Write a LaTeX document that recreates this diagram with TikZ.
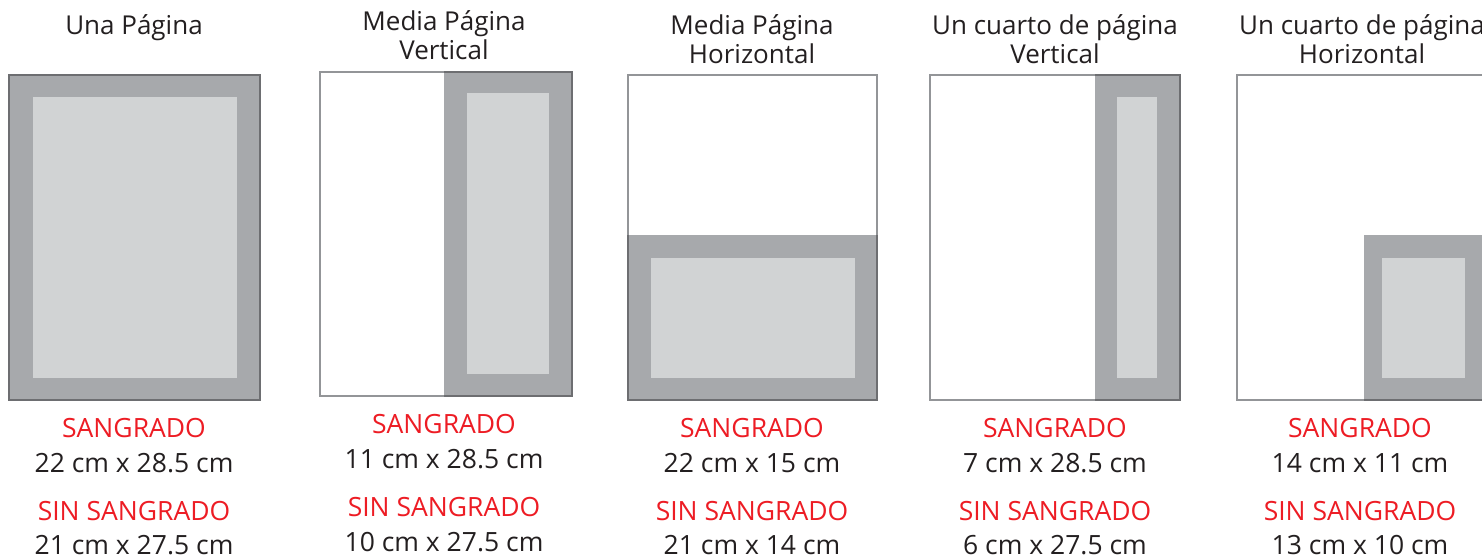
\documentclass[tikz,border=0pt]{standalone}
\usepackage{fontspec}
\setmainfont{Open Sans}
\usepackage{xcolor}
\usepackage{tikz}
\usetikzlibrary{positioning}

\definecolor{bleedgray}{HTML}{A7A9AC}
\definecolor{safegray}{HTML}{D1D3D4}
\definecolor{bleedline}{HTML}{6D6E71}
\definecolor{pageline}{HTML}{939598}
\definecolor{sangrado}{HTML}{ED1C24}
\definecolor{ink}{HTML}{231F20}

\begin{document}
\begin{tikzpicture}[
    x=1pt, y=-1pt,
    page/.style={draw=pageline, line width=2pt, fill=white},
    bleedfill/.style={fill=bleedgray},
    bleedframe/.style={draw=bleedline, line width=2pt},
    safe/.style={fill=safegray},
    title/.style={font=\fontsize{26}{29}\selectfont, text=ink, align=center, anchor=base},
    redlabel/.style={font=\fontsize{26.5}{30}\selectfont, text=sangrado, anchor=base},
    sizelabel/.style={font=\fontsize{26.5}{30}\selectfont, text=ink, anchor=base}
]
    \clip (0,0) rectangle (1482,557);

    % Una pagina
    \node[title] (t1) at (134,34) {Una Página};
    \fill[bleedfill] (9,75) rectangle (260,400);
    \draw[bleedframe] (9,75) rectangle (260,400);
    \fill[safe] (33,97) rectangle (237,378);
    \node[redlabel] (s1) at (134,437) {SANGRADO};
    \node[sizelabel] (d1) at (134,472) {22 cm x 28.5 cm};
    \node[redlabel] (n1) at (134,520) {SIN SANGRADO};
    \node[sizelabel] (e1) at (134,554) {21 cm x 27.5 cm};

    % Media pagina vertical
    \node[title] (t2) at (444,59) {Media Página\\Vertical};
    \draw[page] (320,72) rectangle (572,396);
    \fill[bleedfill] (444,72) rectangle (572,396);
    \draw[bleedframe] (444,72) -| (572,396) -- (444,396);
    \fill[safe] (467,93) rectangle (549,374);
    \node[redlabel] (s2) at (444,433) {SANGRADO};
    \node[sizelabel] (d2) at (444,468) {11 cm x 28.5 cm};
    \node[redlabel] (n2) at (444,516) {SIN SANGRADO};
    \node[sizelabel] (e2) at (444,551) {10 cm x 27.5 cm};

    % Media pagina horizontal
    \node[title] (t3) at (752,63) {Media Página\\Horizontal};
    \draw[page] (628,75) rectangle (877,400);
    \fill[bleedfill] (628,235) rectangle (877,400);
    \draw[bleedframe] (628,235) |- (877,400) -- (877,235);
    \fill[safe] (651,258) rectangle (855,378);
    \node[redlabel] (s3) at (752,437) {SANGRADO};
    \node[sizelabel] (d3) at (752,472) {22 cm x 15 cm};
    \node[redlabel] (n3) at (752,520) {SIN SANGRADO};
    \node[sizelabel] (e3) at (752,554) {21 cm x 14 cm};

    % Un cuarto de pagina vertical
    \node[title] (t4) at (1055,63) {Un cuarto de página\\Vertical};
    \draw[page] (930,75) rectangle (1180,400);
    \fill[bleedfill] (1095,75) rectangle (1180,400);
    \draw[bleedframe] (1095,75) -| (1180,400) -- (1095,400);
    \fill[safe] (1117,97) rectangle (1157,378);
    \node[redlabel] (s4) at (1055,437) {SANGRADO};
    \node[sizelabel] (d4) at (1055,472) {7 cm x 28.5 cm};
    \node[redlabel] (n4) at (1055,520) {SIN SANGRADO};
    \node[sizelabel] (e4) at (1055,554) {6 cm x 27.5 cm};

    % Un cuarto de pagina horizontal
    \node[title] (t5) at (1362,63) {Un cuarto de página\\Horizontal};
    \draw[page] (1237,75) rectangle (1488,400);
    \fill[bleedfill] (1364,235) rectangle (1488,400);
    \draw[bleedframe] (1364,400) -- (1488,400);
    \fill[safe] (1382,258) rectangle (1465,378);
    \node[redlabel] (s5) at (1360,437) {SANGRADO};
    \node[sizelabel] (d5) at (1360,472) {14 cm x 11 cm};
    \node[redlabel] (n5) at (1360,520) {SIN SANGRADO};
    \node[sizelabel] (e5) at (1360,554) {13 cm x 10 cm};
\end{tikzpicture}
\end{document}
